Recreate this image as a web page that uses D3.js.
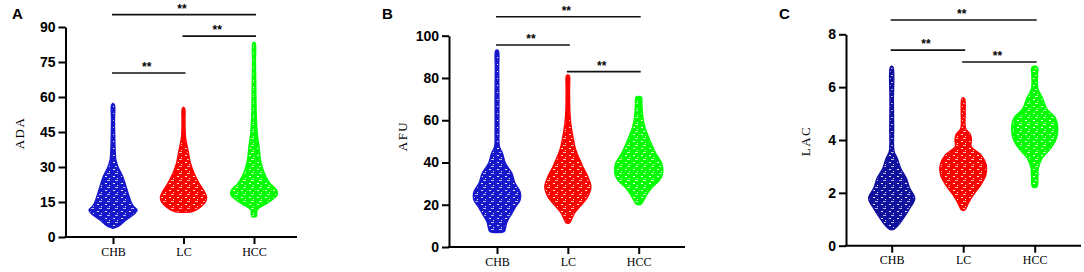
<!DOCTYPE html>
<html>
<head>
<meta charset="utf-8">
<script src="https://cdn.jsdelivr.net/npm/d3@7"></script>
<style>
  html, body { margin: 0; padding: 0; background: #fff; }
  svg { display: block; }
</style>
</head>
<body>
<svg id="chart" width="1084" height="272"></svg>
<script>
// ---------------- DATA ----------------
const categories = ["CHB", "LC", "HCC"];

// y tick labels per panel
const adaTicks = [0, 15, 30, 45, 60, 75, 90];
const afuTicks = [0, 20, 40, 60, 80, 100];
const lacTicks = [0, 2, 4, 6, 8];

// violin profiles: [value, relative density (0-100)]
const adaCHB = [[3.7,0],[4.2,14],[5.1,29],[7.3,54],[9.4,83],[11.6,100],[13.2,85],[15,75],[19,62],[23,50],[26,40],[30,21],[33,12],[35,10],[40,8],[50,6],[56.6,6],[57.3,0]];
const adaLC  = [[10.6,0],[11.0,40],[13,73],[15.1,92],[17.3,96],[20.1,83],[23,65],[27.3,44],[31.6,29],[35.9,21],[43,8],[50,6],[55,5],[55.6,0]];
const adaHCC = [[8.5,0],[8.9,10],[11.6,13],[13.7,42],[15.9,75],[18,96],[20.1,94],[23,67],[25.8,50],[28.7,38],[33,27],[38.7,21],[43,15],[50,10],[60,8],[75,6],[83,5],[83.5,0]];

const afuCHB = [[6.8,0],[7.2,29],[8.8,35],[12,42],[15.9,62],[19.1,78],[22.2,96],[26.2,96],[30.1,75],[34.9,62],[39.6,35],[44.3,23],[47.5,10],[55,8],[70,8],[85,7],[92.8,6],[93.3,0]];
const afuLC  = [[11.2,0],[11.5,8],[15.9,27],[19.1,50],[23.8,83],[28.5,96],[33.3,83],[38,62],[41.2,50],[45.9,33],[52.2,21],[58.5,12],[65,8],[75,7],[81,6],[81.5,0]];
const afuHCC = [[20,0],[20.3,10],[21.4,17],[25.4,37],[28.5,58],[31.7,87],[34.9,100],[39.6,96],[44.3,71],[50.6,46],[56.9,25],[61.7,17],[68,13],[70.8,12],[71.2,0]];

const lacCHB = [[0.6,0],[0.63,10],[0.78,28],[1.04,49],[1.41,75],[1.79,96],[2.17,75],[2.55,61],[2.93,37],[3.31,23],[3.56,10],[4.5,8],[5.5,7],[6.74,6],[6.8,0]];
const lacLC  = [[1.33,0],[1.36,8],[1.6,21],[1.92,42],[2.3,73],[2.67,94],[3.05,96],[3.43,75],[3.75,33],[4.0,34],[4.2,30],[4.44,10],[5,8],[5.55,6],[5.6,0]];
const lacHCC = [[2.2,0],[2.24,10],[2.93,15],[3.31,31],[3.69,67],[4.06,90],[4.44,96],[4.82,87],[5.2,49],[5.58,33],[5.96,13],[6.5,12],[6.74,12],[6.8,0]];

// significance brackets: [from, to, level (in data units)]
const adaSig = [["CHB","HCC",95.3],["LC","HCC",86.1],["CHB","LC",70.3]];
const afuSig = [["CHB","HCC",109],["CHB","LC",95.6],["LC","HCC",83.0]];
const lacSig = [["CHB","HCC",8.54],["CHB","LC",7.40],["LC","HCC",6.95]];

// ---------------- LAYOUT / STYLE ----------------
const panels = [
  { letter: "A", title: "ADA", ticks: adaTicks, domain: [0, 90], violins: [adaCHB, adaLC, adaHCC], sig: adaSig,
    axisX: 65.5, endX: 297, y0: 237, yTop: 27, first: 113, last: 254, letterX: 12, letterY: 19, titleX: 19, titleY: 133,
    colors: ["#1717cc", "#ff0000", "#00ff00"] },
  { letter: "B", title: "AFU", ticks: afuTicks, domain: [0, 100], violins: [afuCHB, afuLC, afuHCC], sig: afuSig,
    axisX: 449, endX: 685, y0: 247, yTop: 35.7, first: 497, last: 638.7, letterX: 382, letterY: 18.5, titleX: 402.5, titleY: 136,
    colors: ["#1717cc", "#ff0000", "#00ff00"] },
  { letter: "C", title: "LAC", ticks: lacTicks, domain: [0, 8], violins: [lacCHB, lacLC, lacHCC], sig: lacSig,
    axisX: 846, endX: 1081, y0: 245.7, yTop: 34.3, first: 891.7, last: 1034.7, letterX: 779, letterY: 19, titleX: 805, titleY: 141,
    colors: ["#11119f", "#ff0000", "#00ff00"] }
];
const maxHalfWidth = 24;

const svg = d3.select("#chart");
const defs = svg.append("defs");

// speckle patterns (texture of the scattered points)
const allColors = Array.from(new Set(panels.flatMap(p => p.colors)));
allColors.forEach((c, i) => {
  const pat = defs.append("pattern")
    .attr("id", "pat" + i).attr("patternUnits", "userSpaceOnUse")
    .attr("width", 8).attr("height", 7);
  pat.append("rect").attr("width", 8).attr("height", 7).attr("fill", c);
  pat.append("rect").attr("x", 1).attr("y", 1).attr("width", 2).attr("height", 1).attr("fill", "#fff").attr("opacity", 0.9);
  pat.append("rect").attr("x", 5).attr("y", 3).attr("width", 1).attr("height", 1).attr("fill", "#fff").attr("opacity", 0.9);
  pat.append("rect").attr("x", 3).attr("y", 5).attr("width", 3).attr("height", 1).attr("fill", "#fff").attr("opacity", 0.7);
});
const patId = c => "url(#pat" + allColors.indexOf(c) + ")";

panels.forEach(p => {
  const g = svg.append("g");
  const y = d3.scaleLinear().domain(p.domain).range([p.y0, p.yTop]);
  const x = d3.scalePoint().domain(categories).range([p.first, p.last]);
  const w = d3.scaleLinear().domain([0, 100]).range([0, maxHalfWidth]);

  // violins
  p.violins.forEach((prof, i) => {
    const cx = x(categories[i]);
    const area = d3.area()
      .y(d => y(d[0]))
      .x0(d => cx - w(d[1]))
      .x1(d => cx + w(d[1]))
      .curve(d3.curveCatmullRom.alpha(0.5));
    g.append("path").datum(prof)
      .attr("d", area)
      .attr("fill", patId(p.colors[i]))
      .attr("stroke", p.colors[i])
      .attr("stroke-width", 1.4);
  });

  // y axis
  const yAxis = d3.axisLeft(y).tickValues(p.ticks).tickSize(7).tickPadding(3).tickSizeOuter(0);
  const ya = g.append("g").attr("transform", `translate(${p.axisX},0)`).call(yAxis);
  ya.select(".domain").attr("stroke", "#000").attr("stroke-width", 2);
  ya.selectAll(".tick line").attr("stroke", "#000").attr("stroke-width", 2);
  ya.selectAll(".tick text")
    .attr("font-family", "'Liberation Sans', Arial, sans-serif")
    .attr("font-weight", "bold").attr("font-size", 14).attr("fill", "#000");

  // x axis
  g.append("line")
    .attr("x1", p.axisX - 1).attr("x2", p.endX)
    .attr("y1", p.y0).attr("y2", p.y0)
    .attr("stroke", "#000").attr("stroke-width", 2);
  const xAxis = d3.axisBottom(x).tickSize(7).tickPadding(3).tickSizeOuter(0);
  const xa = g.append("g").attr("transform", `translate(0,${p.y0})`).call(xAxis);
  xa.select(".domain").remove();
  xa.selectAll(".tick line").attr("stroke", "#000").attr("stroke-width", 2);
  xa.selectAll(".tick text")
    .attr("font-family", "'Liberation Serif', 'Times New Roman', serif")
    .attr("font-size", 12).attr("fill", "#000");

  // y title
  g.append("text")
    .attr("transform", `translate(${p.titleX},${p.titleY}) rotate(-90)`)
    .attr("text-anchor", "middle").attr("dominant-baseline", "central")
    .attr("font-family", "'Liberation Serif', 'Times New Roman', serif")
    .attr("font-size", 13).attr("letter-spacing", 1.5)
    .text(p.title);

  // panel letter
  g.append("text")
    .attr("x", p.letterX).attr("y", p.letterY)
    .attr("font-family", "'Liberation Sans', Arial, sans-serif")
    .attr("font-weight", "bold").attr("font-size", 15)
    .text(p.letter);

  // significance brackets
  p.sig.forEach(s => {
    const x1 = x(s[0]) - 1, x2 = x(s[1]) + 2, ly = y(s[2]);
    g.append("line").attr("x1", x1).attr("x2", x2).attr("y1", ly).attr("y2", ly)
      .attr("stroke", "#111").attr("stroke-width", 1.6);
    g.append("text")
      .attr("x", (x1 + x2) / 2 - 2).attr("y", ly - 2)
      .attr("text-anchor", "middle")
      .attr("font-family", "'Liberation Sans', Arial, sans-serif")
      .attr("font-weight", "bold").attr("font-size", 12).attr("fill", "#000")
      .attr("opacity", 0.99)
      .text("**");
  });
});
</script>
</body>
</html>
